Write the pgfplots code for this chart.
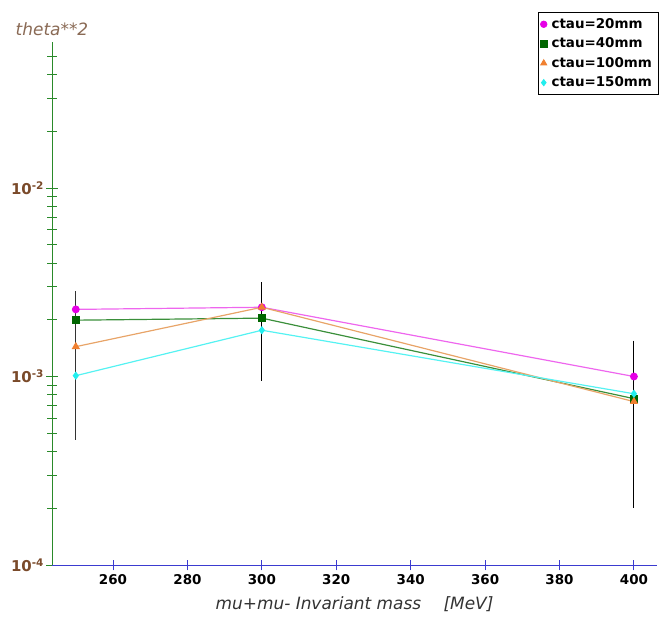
\documentclass[border=0pt]{standalone}
\usepackage{pgfplots}
\pgfplotsset{compat=1.18}
\usepackage{fontspec}
\setmainfont{DejaVu Sans}
\definecolor{c20}{HTML}{E600E6}
\definecolor{c20l}{HTML}{EE66EE}
\definecolor{c40}{HTML}{006600}
\definecolor{c40l}{HTML}{3A8F3A}
\definecolor{c100}{HTML}{F08030}
\definecolor{c100l}{HTML}{E8A468}
\definecolor{c150}{HTML}{22EEEE}
\definecolor{c150l}{HTML}{55F2F2}
\definecolor{ygreen}{HTML}{2A8A2A}
\definecolor{xblue}{HTML}{3B3BD0}
\definecolor{tbrown}{HTML}{7A4A2A}
\definecolor{lbrown}{HTML}{8A6A55}
\begin{document}
\begin{tikzpicture}
\begin{axis}[
  at={(52bp,66bp)}, anchor=south west,
  scale only axis, width=605bp, height=523bp,
  xmode=normal, ymode=log,
  xmin=243.6, xmax=406.2, ymin=1e-4, ymax=0.0595,
  axis lines=left, axis line style={-},
  x axis line style={xblue, line width=1pt},
  y axis line style={ygreen, line width=1pt},
  xtick={260,280,...,400},
  ytick={1e-4,1e-3,1e-2},
  yticklabels={{\textbf{10\textsuperscript{-4}}},{\textbf{10\textsuperscript{-3}}},{\textbf{10\textsuperscript{-2}}}},
  minor ytick={2e-4,3e-4,4e-4,5e-4,6e-4,7e-4,8e-4,9e-4,2e-3,3e-3,4e-3,5e-3,6e-3,7e-3,8e-3,9e-3,2e-2,3e-2,4e-2,5e-2},
  tick align=center,
  major tick length=11bp, minor tick length=9bp,
  xtick style={xblue, line width=1pt},
  ytick style={ygreen, line width=1pt},
  /pgf/number format/assume math mode=true,
  /pgf/number format/1000 sep={},
  xticklabel style={font=\fontsize{13.5}{15}\selectfont\bfseries, black, yshift=-1bp},
  yticklabel style={font=\fontsize{15}{17}\selectfont, tbrown, xshift=1bp},
  xlabel={\itshape mu+mu- Invariant mass\quad\ [MeV]},
  xlabel style={font=\fontsize{17}{19}\selectfont, black!80, yshift=-5bp},
  ylabel={\itshape theta**2},
  every axis y label/.style={at={(axis description cs:0,1)}, anchor=south, yshift=3bp, font=\fontsize{17}{19}\selectfont, color=lbrown},
  legend style={at={(1.003,1.057)}, anchor=north east, draw=black, line width=0.7pt,
    font=\fontsize{13.5}{15}\selectfont\bfseries, row sep=4bp, inner xsep=2bp, inner ysep=4bp,
    nodes={inner xsep=4.5bp}},
  legend cell align=left,
  clip=false,
]
% error bars
\addplot[black!80, line width=1pt, forget plot] coordinates {(250,2.83e-3) (250,4.62e-4)};
\addplot[black, line width=1pt, forget plot] coordinates {(300,3.16e-3) (300,9.5e-4)};
\addplot[black, line width=1pt, forget plot] coordinates {(400,1.55e-3) (400,2.0e-4)};
% series
\addplot[c20l, line width=1.2pt, mark=*, mark size=3.3bp, mark options={c20, fill=c20}, forget plot]
  coordinates {(250,2.27e-3) (300,2.33e-3) (400,1.0e-3)};
\addplot[c40l, line width=1.2pt, mark=square*, mark size=3.3bp, mark options={c40, fill=c40}, forget plot]
  coordinates {(250,1.99e-3) (300,2.04e-3) (400,7.63e-4)};
\addplot[c100l, line width=1.2pt, mark=triangle*, mark size=3.6bp, mark options={c100, fill=c100}, forget plot]
  coordinates {(250,1.44e-3) (300,2.33e-3) (400,7.36e-4)};
\addplot[c150l, line width=1.2pt, mark=diamond*, mark size=3.2bp, mark options={c150, fill=c150}, forget plot]
  coordinates {(250,1.01e-3) (300,1.76e-3) (400,8.1e-4)};
\addlegendimage{only marks, mark=*, mark size=3.3bp, c20, fill=c20}
\addlegendentry{ctau=20mm}
\addlegendimage{only marks, mark=square*, mark size=3.3bp, c40, fill=c40}
\addlegendentry{ctau=40mm}
\addlegendimage{only marks, mark=triangle*, mark size=3.6bp, c100, fill=c100}
\addlegendentry{ctau=100mm}
\addlegendimage{only marks, mark=diamond*, mark size=3.2bp, c150, fill=c150}
\addlegendentry{ctau=150mm}
\end{axis}
\pgfresetboundingbox
\path (0,0) rectangle (670bp,631bp);
\end{tikzpicture}
\end{document}
